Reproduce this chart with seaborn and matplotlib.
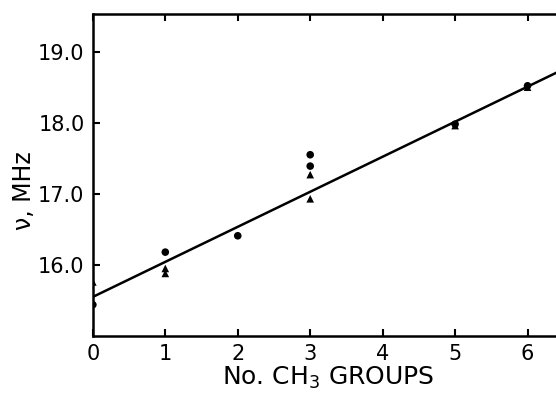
import numpy as np
import pandas as pd
import seaborn as sns
import matplotlib.pyplot as plt

# data
circle_x = [0, 1, 2, 3, 3, 5, 6]
circle_y = [15.44, 16.18, 16.41, 17.55, 17.39, 17.98, 18.52]
tri_x = [0, 1, 1, 3, 3, 5, 6]
tri_y = [15.76, 15.95, 15.88, 17.27, 16.93, 17.96, 18.50]

# fitted line
fit_intercept = 15.55
fit_slope = 0.493
line_x = [0, 6.5]

x_ticks = [0, 1, 2, 3, 4, 5, 6]
y_ticks = [16.0, 17.0, 18.0, 19.0]

sns.set_style("ticks")
plt.rcParams['font.family'] = ['DejaVu Sans']

df = pd.concat([
    pd.DataFrame({"n": circle_x, "nu": circle_y, "kind": "circle"}),
    pd.DataFrame({"n": tri_x, "nu": tri_y, "kind": "triangle"}),
])
line_df = pd.DataFrame({"n": line_x, "nu": [fit_intercept + fit_slope * v for v in line_x]})

fig = plt.figure(figsize=(5.56, 4.0), dpi=100)
ax = fig.add_axes([0.167, 0.16, 0.847, 0.805])

sns.lineplot(data=line_df, x="n", y="nu", color="black", linewidth=1.8, ax=ax)
sns.scatterplot(data=df, x="n", y="nu", style="kind", markers={"circle": "o", "triangle": "^"},
                color="black", s=30, edgecolor="black", linewidth=0, legend=False, ax=ax)

ax.set_xlim(0, 6.5)
ax.set_ylim(15.0, 19.53)
ax.set_xticks(x_ticks)
ax.set_yticks(y_ticks)
ax.set_yticklabels([f"{v:.1f}" for v in y_ticks])
ax.tick_params(direction="in", top=True, right=False, length=5, width=1.5,
               labelsize=15, colors="black", pad=6)

for side in ["left", "bottom", "top"]:
    ax.spines[side].set_linewidth(1.8)
    ax.spines[side].set_color("black")
ax.spines["right"].set_visible(False)

ax.set_xlabel("No. CH$_3$ GROUPS", fontsize=18, color="black", labelpad=0)
ax.set_ylabel("ν, MHz", fontsize=17, color="black")
ax.yaxis.set_label_coords(-0.12, 0.45)

fig.savefig("out.png", dpi=100)
